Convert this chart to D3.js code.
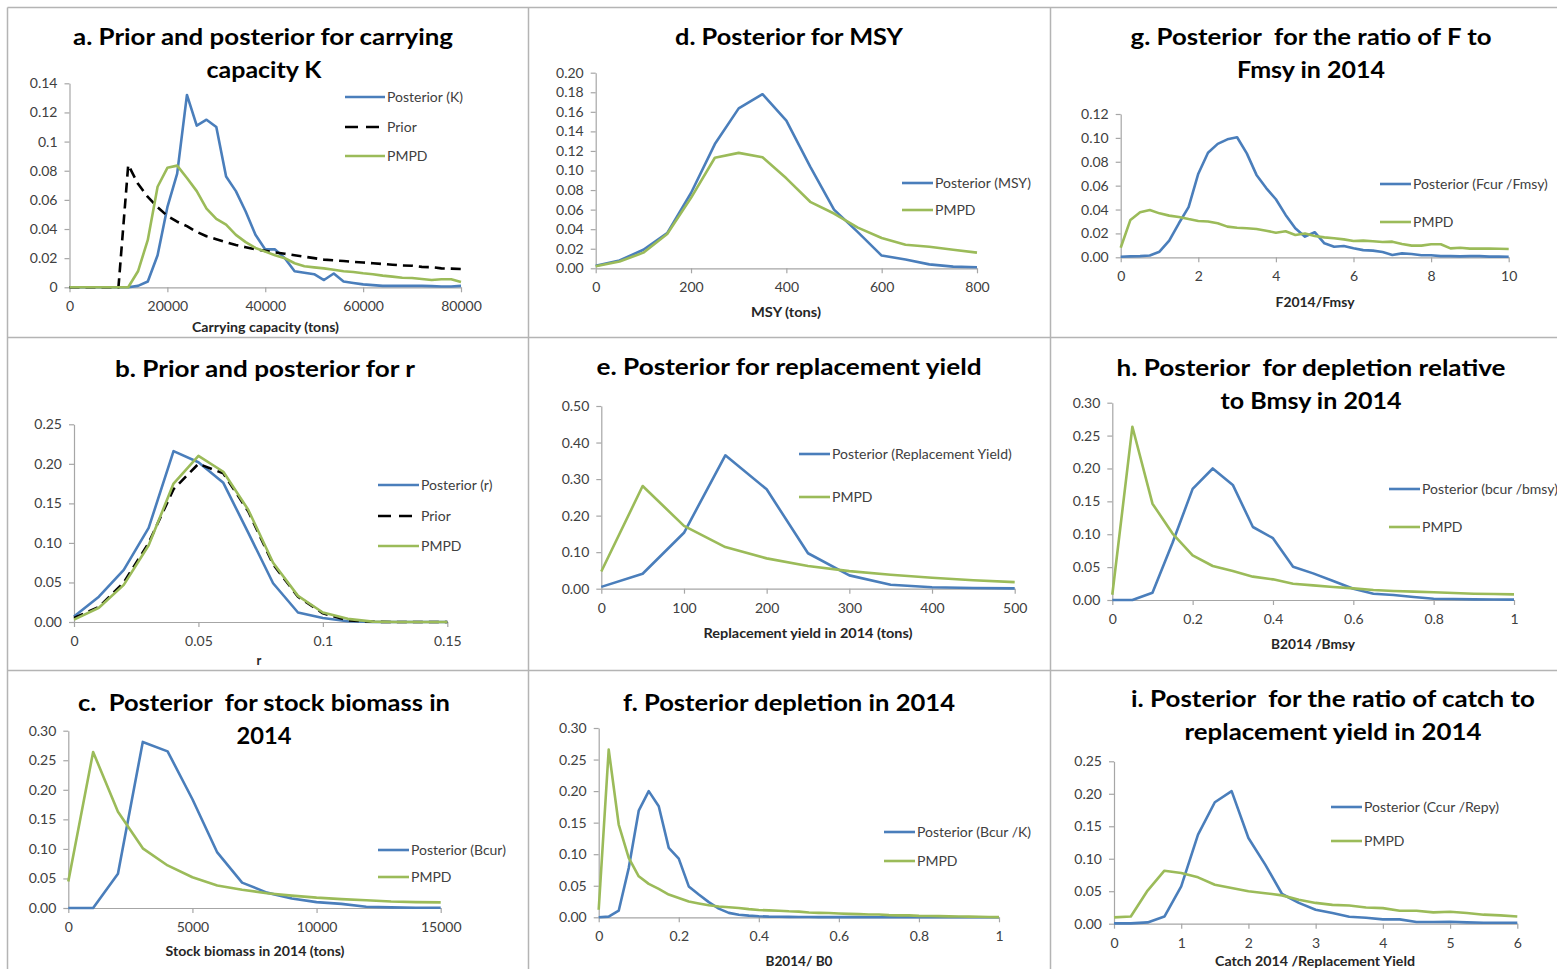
<!DOCTYPE html>
<html>
<head>
<meta charset="utf-8">
<script src="https://cdn.jsdelivr.net/npm/d3@7"></script>
<style>
  html, body { margin: 0; padding: 0; background: #fff; }
  svg { display: block; }
  text { font-family: Lato, "Open Sans", "DejaVu Sans", sans-serif; white-space: pre; }
</style>
</head>
<body>
<svg id="chart" width="1557" height="969"></svg>
<script>
// ---------------- DATA ----------------
// a. carrying capacity K
const aX = [0,2000,4000,6000,8000,10000,12000,14000,16000,18000,20000,22000,24000,26000,28000,30000,32000,34000,36000,38000,40000,42000,44000,46000,48000,50000,52000,54000,56000,58000,60000,62000,64000,66000,68000,70000,72000,74000,76000,78000,80000];
const aPosterior = [0,0,0,0,0,0,0,0.001,0.004,0.022,0.055,0.078,0.132,0.111,0.115,0.110,0.076,0.066,0.052,0.036,0.026,0.026,0.020,0.011,0.010,0.009,0.005,0.0095,0.004,0.003,0.002,0.0015,0.001,0.001,0.001,0.001,0.001,0.0008,0.0005,0.0005,0.001];
const aPrior = [0,0,0,0,0,0,0.084,0.071,0.062,0.055,0.049,0.045,0.042,0.038,0.035,0.033,0.031,0.029,0.0275,0.026,0.025,0.024,0.023,0.022,0.021,0.020,0.019,0.0185,0.018,0.0175,0.017,0.0165,0.016,0.0155,0.015,0.0148,0.014,0.0138,0.013,0.0128,0.0125];
const aPMPD = [0,0,0,0,0,0,0,0.011,0.0325,0.069,0.082,0.0835,0.075,0.066,0.054,0.047,0.043,0.036,0.031,0.027,0.0245,0.022,0.020,0.0165,0.0145,0.0137,0.013,0.012,0.011,0.0105,0.0096,0.009,0.008,0.0073,0.0066,0.0064,0.0057,0.005,0.0055,0.0055,0.0037];
const aXTicks = [0,20000,40000,60000,80000];
const aYTicks = [0,0.02,0.04,0.06,0.08,0.1,0.12,0.14];

// b. r
const bX = [0,0.01,0.02,0.03,0.04,0.05,0.06,0.07,0.08,0.09,0.10,0.11,0.12,0.13,0.14,0.15];
const bPosterior = [0.007,0.032,0.066,0.119,0.216,0.202,0.176,0.113,0.049,0.012,0.005,0.001,0,0,0,0];
const bPrior = [0.005,0.019,0.050,0.100,0.168,0.200,0.188,0.140,0.073,0.032,0.011,0.002,0.0003,0,0,0];
const bPMPD = [0.003,0.018,0.047,0.097,0.175,0.210,0.190,0.142,0.075,0.033,0.012,0.004,0.0005,0,0,0];
const bXTicks = [0,0.05,0.1,0.15];
const bYTicks = [0,0.05,0.10,0.15,0.20,0.25];

// c. stock biomass 2014
const cX = [0,1000,2000,3000,4000,5000,6000,7000,8000,9000,10000,11000,12000,13000,14000,15000];
const cPosterior = [0,0,0.058,0.281,0.265,0.184,0.094,0.043,0.026,0.016,0.010,0.007,0.002,0.001,0.0005,0.0005];
const cPMPD = [0.045,0.264,0.163,0.101,0.072,0.052,0.038,0.031,0.025,0.021,0.0175,0.015,0.013,0.011,0.010,0.0095];
const cXTicks = [0,5000,10000,15000];
const cYTicks = [0,0.05,0.10,0.15,0.20,0.25,0.30];

// d. MSY
const dX = [0,50,100,150,200,250,300,350,400,450,500,550,600,650,700,750,800];
const dPosterior = [0.0025,0.008,0.019,0.036,0.077,0.127,0.1635,0.178,0.151,0.104,0.060,0.037,0.013,0.009,0.004,0.0017,0.001];
const dPMPD = [0.002,0.007,0.016,0.035,0.072,0.113,0.118,0.1135,0.092,0.068,0.056,0.0416,0.031,0.024,0.022,0.019,0.016];
const dXTicks = [0,200,400,600,800];
const dYTicks = [0,0.02,0.04,0.06,0.08,0.10,0.12,0.14,0.16,0.18,0.20];

// e. replacement yield
const eX = [0,50,100,150,200,250,300,350,400,450,500];
const ePosterior = [0.005,0.041,0.153,0.365,0.272,0.097,0.0365,0.011,0.004,0.002,0.001];
const ePMPD = [0.047,0.281,0.172,0.114,0.083,0.062,0.048,0.038,0.030,0.023,0.018];
const eXTicks = [0,100,200,300,400,500];
const eYTicks = [0,0.10,0.20,0.30,0.40,0.50];

// f. depletion B2014/B0
const fX = [0,0.025,0.05,0.075,0.1,0.125,0.15,0.175,0.2,0.225,0.25,0.275,0.3,0.325,0.35,0.375,0.4,0.425,0.45,0.475,0.5,0.525,0.55,0.575,0.6,0.625,0.65,0.675,0.7,0.725,0.75,0.775,0.8,0.825,0.85,0.875,0.9,0.925,0.95,0.975,1];
const fPosterior = [0,0.001,0.0105,0.078,0.169,0.2,0.176,0.110,0.093,0.049,0.036,0.024,0.0137,0.007,0.004,0.0026,0.0016,0.001,0.0008,0.0006,0.0005,0.0004,0.0003,0.0003,0.0002,0.0002,0.0002,0.0001,0.0001,0.0001,0.0001,0,0,0,0,0,0,0,0,0,0];
const fPMPD = [0.012,0.2657,0.147,0.094,0.065,0.053,0.045,0.036,0.0306,0.025,0.022,0.019,0.017,0.016,0.0148,0.013,0.0116,0.011,0.0105,0.0095,0.009,0.0075,0.007,0.0068,0.006,0.0055,0.005,0.0045,0.0045,0.0035,0.003,0.003,0.0022,0.002,0.0018,0.0015,0.0012,0.001,0.0008,0.0005,0.0003];
const fXTicks = [0,0.2,0.4,0.6,0.8,1];
const fYTicks = [0,0.05,0.10,0.15,0.20,0.25,0.30];

// g. F2014/Fmsy
const gX = [0,0.25,0.5,0.75,1,1.25,1.5,1.75,2,2.25,2.5,2.75,3,3.25,3.5,3.75,4,4.25,4.5,4.75,5,5.25,5.5,5.75,6,6.25,6.5,6.75,7,7.25,7.5,7.75,8,8.25,8.5,8.75,9,9.25,9.5,9.75,10];
const gPosterior = [0.0005,0.0008,0.001,0.0015,0.0047,0.014,0.0285,0.042,0.070,0.0876,0.095,0.0988,0.1005,0.087,0.069,0.058,0.0486,0.0355,0.0243,0.0173,0.021,0.0117,0.0089,0.0095,0.0075,0.006,0.0056,0.0045,0.002,0.0033,0.0028,0.0017,0.0017,0.001,0.001,0.0008,0.001,0.001,0.0006,0.0006,0.0005];
const gPMPD = [0.008,0.0313,0.0377,0.0396,0.0368,0.0349,0.0338,0.032,0.0304,0.030,0.0285,0.0257,0.0248,0.0243,0.0237,0.0223,0.0206,0.0218,0.0187,0.020,0.0179,0.0167,0.0159,0.015,0.0137,0.014,0.0134,0.0128,0.0131,0.0112,0.0098,0.0098,0.0109,0.0109,0.0075,0.008,0.0073,0.0073,0.0073,0.0072,0.007];
const gXTicks = [0,2,4,6,8,10];
const gYTicks = [0,0.02,0.04,0.06,0.08,0.10,0.12];

// h. B2014/Bmsy
const hX = [0,0.05,0.1,0.15,0.2,0.25,0.3,0.35,0.4,0.45,0.5,0.55,0.6,0.65,0.7,0.75,0.8,0.85,0.9,0.95,1];
const hPosterior = [0,0,0.011,0.087,0.169,0.200,0.175,0.111,0.094,0.0507,0.0405,0.029,0.017,0.0096,0.0076,0.0046,0.002,0.0015,0.001,0.0007,0.0005];
const hPMPD = [0.008,0.2635,0.1465,0.101,0.068,0.0517,0.044,0.0355,0.0314,0.0248,0.0223,0.0198,0.0177,0.0152,0.0137,0.0127,0.0117,0.0106,0.0096,0.0091,0.0086];
const hXTicks = [0,0.2,0.4,0.6,0.8,1];
const hYTicks = [0,0.05,0.10,0.15,0.20,0.25,0.30];

// i. Catch 2014 / Replacement Yield
const iX = [0,0.25,0.5,0.75,1,1.25,1.5,1.75,2,2.25,2.5,2.75,3,3.25,3.5,3.75,4,4.25,4.5,4.75,5,5.25,5.5,5.75,6];
const iPosterior = [0.0005,0.0005,0.002,0.011,0.0575,0.137,0.187,0.204,0.132,0.091,0.0457,0.032,0.0216,0.0164,0.0108,0.0092,0.0067,0.0067,0.0026,0.0026,0.003,0.002,0.0015,0.0015,0.0015];
const iPMPD = [0.0098,0.011,0.051,0.0816,0.078,0.0714,0.060,0.055,0.050,0.047,0.0436,0.037,0.032,0.029,0.028,0.025,0.024,0.020,0.020,0.0175,0.0185,0.0164,0.0139,0.0128,0.011];
const iXTicks = [0,1,2,3,4,5,6];
const iYTicks = [0,0.05,0.10,0.15,0.20,0.25];

// ---------------- STYLE ----------------
const BLUE = "#4a7ebb", GREEN = "#9bbb59", BLACK = "#000000";
const AXIS = "#a6a6a6", LABEL = "#404040";

const S = (name, values, color, dash) => ({name, values, color, dash});

const panels = [
  { x0:69.5, x1:461, yTop:83.3, yBot:287.3, xs:aX, xDom:[0,80000], yDom:[0,0.14], xt:aXTicks, yt:aYTicks,
    xf:d3.format("d"), yf:d3.format("~g"),
    series:[S("Posterior (K)",aPosterior,BLUE), S("Prior",aPrior,BLACK,"10,6"), S("PMPD",aPMPD,GREEN)],
    leg:{x:345, w:40, rows:[97,127,156]},
    title:[["a. Prior and posterior for carrying",263,45,380],["capacity K",264,78,115]],
    xlab:["Carrying capacity (tons)",265.5,332,147] },
  { x0:74, x1:447.3, yTop:424.3, yBot:622, xs:bX, xDom:[0,0.15], yDom:[0,0.25], xt:bXTicks, yt:bYTicks,
    xf:d3.format("~g"), yf:d3.format(".2f"),
    series:[S("Posterior (r)",bPosterior,BLUE), S("Prior",bPrior,BLACK,"10,6"), S("PMPD",bPMPD,GREEN)],
    leg:{x:378, w:41, rows:[485,516,546]},
    title:[["b. Prior and posterior for r",265,377,300]],
    xlab:["r",259,665,null] },
  { x0:68.3, x1:440.7, yTop:730.7, yBot:908, xs:cX, xDom:[0,15000], yDom:[0,0.30], xt:cXTicks, yt:cYTicks,
    xf:d3.format("d"), yf:d3.format(".2f"),
    series:[S("Posterior (Bcur)",cPosterior,BLUE), S("PMPD",cPMPD,GREEN)],
    leg:{x:378, w:31, rows:[850,877]},
    title:[["c.  Posterior  for stock biomass in",264,711,372],["2014",264,744,55]],
    xlab:["Stock biomass in 2014 (tons)",255,956,179] },
  { x0:595.7, x1:977, yTop:72.7, yBot:268.3, xs:dX, xDom:[0,800], yDom:[0,0.20], xt:dXTicks, yt:dYTicks,
    xf:d3.format("d"), yf:d3.format(".2f"),
    series:[S("Posterior (MSY)",dPosterior,BLUE), S("PMPD",dPMPD,GREEN)],
    leg:{x:902, w:31, rows:[183,210]},
    title:[["d. Posterior for MSY",789,45,228]],
    xlab:["MSY (tons)",786,317,70] },
  { x0:601.3, x1:1014.7, yTop:406, yBot:588.7, xs:eX, xDom:[0,500], yDom:[0,0.50], xt:eXTicks, yt:eYTicks,
    xf:d3.format("d"), yf:d3.format(".2f"),
    series:[S("Posterior (Replacement Yield)",ePosterior,BLUE), S("PMPD",ePMPD,GREEN)],
    leg:{x:799, w:31, rows:[454,497]},
    title:[["e. Posterior for replacement yield",789,375,385]],
    xlab:["Replacement yield in 2014 (tons)",808,638,209] },
  { x0:598.7, x1:999, yTop:728, yBot:917.3, xs:fX, xDom:[0,1], yDom:[0,0.30], xt:fXTicks, yt:fYTicks,
    xf:d3.format("~g"), yf:d3.format(".2f"),
    series:[S("Posterior (Bcur /K)",fPosterior,BLUE), S("PMPD",fPMPD,GREEN)],
    leg:{x:884, w:31, rows:[832,861]},
    title:[["f. Posterior depletion in 2014",789,711,332]],
    xlab:["B2014/ B0",799,966,67] },
  { x0:1120.7, x1:1508.7, yTop:114, yBot:257.3, xs:gX, xDom:[0,10], yDom:[0,0.12], xt:gXTicks, yt:gYTicks,
    xf:d3.format("d"), yf:d3.format(".2f"),
    series:[S("Posterior (Fcur /Fmsy)",gPosterior,BLUE), S("PMPD",gPMPD,GREEN)],
    leg:{x:1380, w:31, rows:[184,222]},
    title:[["g. Posterior  for the ratio of F to",1311,45,361],["Fmsy in 2014",1311,78,148]],
    xlab:["F2014/Fmsy",1315,307,79] },
  { x0:1112.3, x1:1514, yTop:402.7, yBot:600, xs:hX, xDom:[0,1], yDom:[0,0.30], xt:hXTicks, yt:hYTicks,
    xf:d3.format("~g"), yf:d3.format(".2f"),
    series:[S("Posterior (bcur /bmsy)",hPosterior,BLUE), S("PMPD",hPMPD,GREEN)],
    leg:{x:1389, w:31, rows:[489,527]},
    title:[["h. Posterior  for depletion relative",1311,376,389],["to Bmsy in 2014",1311,409,181]],
    xlab:["B2014 /Bmsy",1313,649,84] },
  { x0:1114, x1:1517.3, yTop:761.3, yBot:923.7, xs:iX, xDom:[0,6], yDom:[0,0.25], xt:iXTicks, yt:iYTicks,
    xf:d3.format("d"), yf:d3.format(".2f"),
    series:[S("Posterior (Ccur /Repy)",iPosterior,BLUE), S("PMPD",iPMPD,GREEN)],
    leg:{x:1331, w:31, rows:[807,841]},
    title:[["i. Posterior  for the ratio of catch to",1333,707,404],["replacement yield in 2014",1333,740,297]],
    xlab:["Catch 2014 /Replacement Yield",1315,966,200] }
];

const svg = d3.select("#chart");
svg.append("rect").attr("width",1557).attr("height",969).attr("fill","#fff");

// panel borders
const border = svg.append("g").attr("stroke","#b4b4b4").attr("stroke-width",1.5).attr("fill","none");
[7.5, 528.5, 1050.5].forEach(x => border.append("line").attr("x1",x).attr("x2",x).attr("y1",7.5).attr("y2",969));
[7.5, 337.5, 670.5].forEach(y => border.append("line").attr("x1",7.5).attr("x2",1557).attr("y1",y).attr("y2",y));

panels.forEach(p => {
  const g = svg.append("g");
  const x = d3.scaleLinear().domain(p.xDom).range([p.x0, p.x1]);
  const y = d3.scaleLinear().domain(p.yDom).range([p.yBot, p.yTop]);

  // y axis
  const ya = g.append("g").attr("transform",`translate(${p.x0},0)`)
    .call(d3.axisLeft(y).tickValues(p.yt).tickFormat(p.yf).tickSize(5).tickSizeOuter(0).tickPadding(7));
  // x axis
  const xa = g.append("g").attr("transform",`translate(0,${p.yBot})`)
    .call(d3.axisBottom(x).tickValues(p.xt).tickFormat(p.xf).tickSize(5).tickSizeOuter(0).tickPadding(9));
  [ya, xa].forEach(a => {
    a.select(".domain").attr("stroke",AXIS).attr("stroke-width",1.2);
    a.selectAll(".tick line").attr("stroke",AXIS).attr("stroke-width",1.2);
    a.selectAll(".tick text").attr("fill",LABEL).style("font-size","14px").style("font-family","Lato, 'Open Sans', sans-serif");
  });

  // lines
  const line = d3.line().x((d,i) => x(p.xs[i])).y(d => y(d));
  p.series.forEach(s => {
    g.append("path").datum(s.values)
      .attr("d", line)
      .attr("fill","none")
      .attr("stroke", s.color)
      .attr("stroke-width", 2.6)
      .attr("stroke-linejoin","round")
      .attr("stroke-dasharray", s.dash || null);
  });

  // legend
  p.series.forEach((s, k) => {
    const ry = p.leg.rows[k];
    g.append("line").attr("x1",p.leg.x).attr("x2",p.leg.x+p.leg.w).attr("y1",ry).attr("y2",ry)
      .attr("stroke",s.color).attr("stroke-width",2.6)
      .attr("stroke-dasharray", s.dash ? "13,8" : null);
    g.append("text").attr("x",p.leg.x+p.leg.w+2).attr("y",ry).attr("dy","0.35em")
      .attr("fill",LABEL).style("font-size","14px").text(s.name);
  });

  // title
  p.title.forEach(t => {
    g.append("text").attr("x",t[1]).attr("y",t[2]).attr("text-anchor","middle")
      .attr("textLength",t[3]).attr("lengthAdjust","spacingAndGlyphs")
      .style("font-size","23px").style("font-weight","bold").attr("fill","#000").text(t[0]);
  });

  // x axis title
  const xl = g.append("text").attr("x",p.xlab[1]).attr("y",p.xlab[2]).attr("text-anchor","middle")
    .style("font-size","13px").style("font-weight","bold").attr("fill","#262626").text(p.xlab[0]);
  if (p.xlab[3]) xl.attr("textLength",p.xlab[3]).attr("lengthAdjust","spacingAndGlyphs");
});
</script>
</body>
</html>
